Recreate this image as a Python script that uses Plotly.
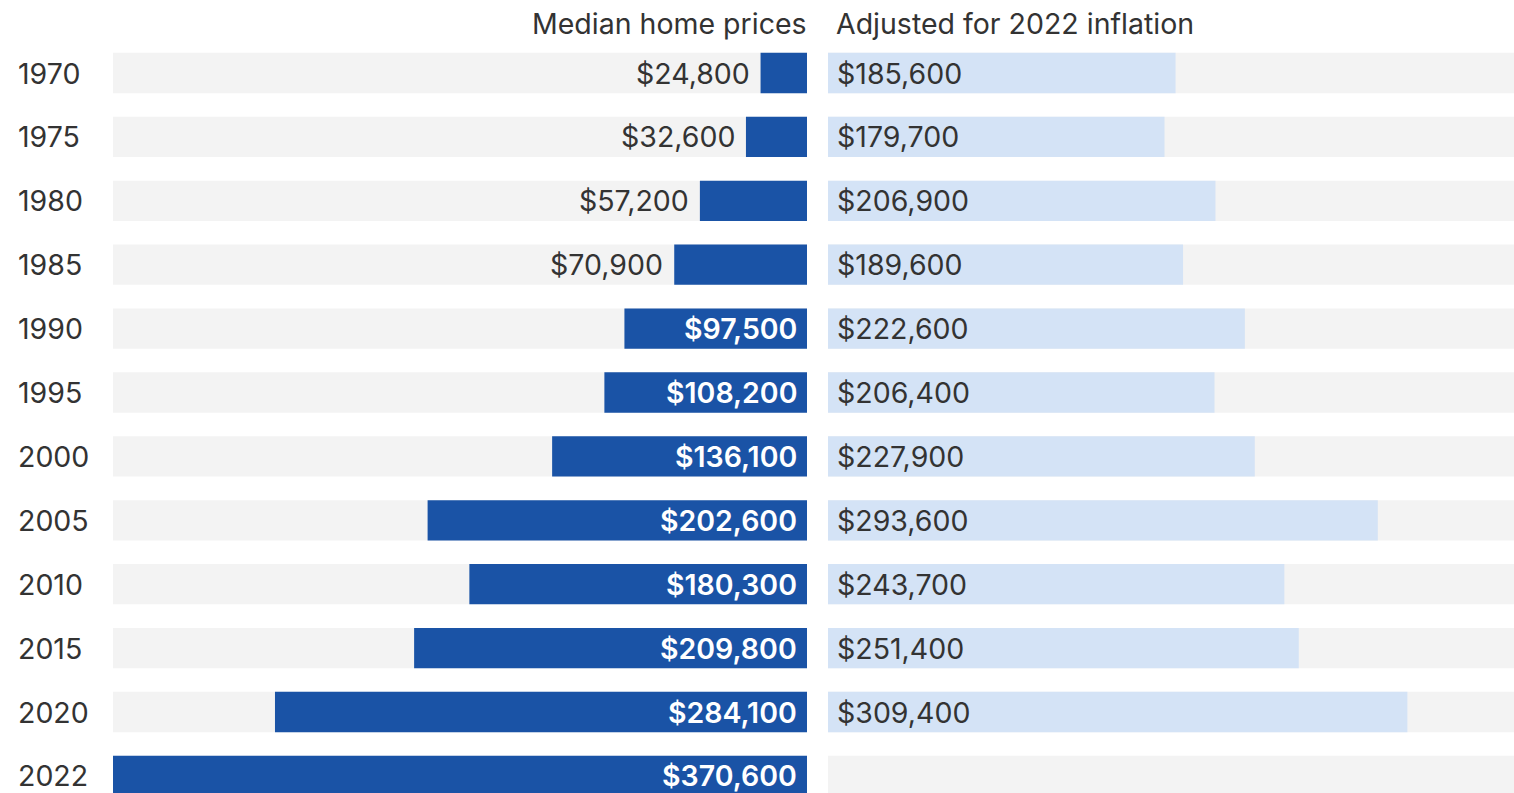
import plotly.graph_objects as go

years = ["1970", "1975", "1980", "1985", "1990", "1995", "2000", "2005", "2010", "2015", "2020", "2022"]
median_prices = [24800, 32600, 57200, 70900, 97500, 108200, 136100, 202600, 180300, 209800, 284100, 370600]
adjusted_prices = [185600, 179700, 206900, 189600, 222600, 206400, 227900, 293600, 243700, 251400, 309400, None]
header_left = "Median home prices"
header_right = "Adjusted for 2022 inflation"

W, H = 1514, 793
DARK = "#1a53a6"
LIGHT = "#d4e3f6"
GRAY = "#f3f3f3"
TEXT = "#333333"
FONT = "Inter"
FS = 28.5
BAR_W = 0.63
INSIDE_MIN = 90000

fig = go.Figure()
fig.add_trace(go.Bar(y=years, x=median_prices, orientation="h", marker=dict(color=DARK, line=dict(width=0)),
                     width=BAR_W, xaxis="x", yaxis="y", hoverinfo="skip"))
fig.add_trace(go.Bar(y=years, x=adjusted_prices, orientation="h", marker=dict(color=LIGHT, line=dict(width=0)),
                     width=BAR_W, xaxis="x2", yaxis="y", hoverinfo="skip"))

shapes = []
annotations = []
for i, yr in enumerate(years):
    for xr in ("x domain", "x2 domain"):
        shapes.append(dict(type="rect", xref=xr, yref="y", x0=0, x1=1, y0=i - BAR_W / 2, y1=i + BAR_W / 2,
                           fillcolor=GRAY, line=dict(width=0), layer="below"))
    annotations.append(dict(xref="paper", yref="y", x=16 / W, y=i, xanchor="left", yanchor="middle",
                            text=yr, showarrow=False, font=dict(family=FONT, size=FS, color=TEXT)))
    v = median_prices[i]
    lbl = "${:,}".format(v)
    if v >= INSIDE_MIN:
        annotations.append(dict(xref="x", yref="y", x=0, y=i, xanchor="right", yanchor="middle", xshift=-8,
                                text=lbl, showarrow=False,
                                font=dict(family=FONT, size=FS, color="white", weight=600)))
    else:
        annotations.append(dict(xref="x", yref="y", x=v, y=i, xanchor="right", yanchor="middle", xshift=-9,
                                text=lbl, showarrow=False, font=dict(family=FONT, size=FS, color=TEXT)))
    a = adjusted_prices[i]
    if a is not None:
        annotations.append(dict(xref="x2", yref="y", x=0, y=i, xanchor="left", yanchor="middle", xshift=7,
                                text="${:,}".format(a), showarrow=False, font=dict(family=FONT, size=FS, color=TEXT)))

annotations.append(dict(xref="paper", yref="paper", x=809 / W, y=1 - 23 / H, xanchor="right", yanchor="middle",
                        text=header_left, showarrow=False, font=dict(family=FONT, size=FS, color=TEXT)))
annotations.append(dict(xref="paper", yref="paper", x=834 / W, y=1 - 23 / H, xanchor="left", yanchor="middle",
                        text=header_right, showarrow=False, font=dict(family=FONT, size=FS, color=TEXT)))

row_px = 63.9
first_px = 73
y_top = -first_px / row_px
y_bot = (H - first_px) / row_px

scale = max(median_prices) / (807 - 113)

fig.update_layout(
    width=W, height=H, margin=dict(l=0, r=0, t=0, b=0),
    paper_bgcolor="white", plot_bgcolor="white", showlegend=False, barmode="overlay",
    xaxis=dict(domain=[113 / W, 807 / W], range=[max(median_prices), 0], visible=False, fixedrange=True),
    xaxis2=dict(domain=[828 / W, 1.0], range=[0, scale * (W - 828)], visible=False, anchor="y", fixedrange=True),
    yaxis=dict(type="category", categoryorder="array", categoryarray=years, range=[y_bot, y_top],
               visible=False, fixedrange=True),
    shapes=shapes, annotations=annotations,
)

fig.write_html("out.html", config={"displayModeBar": False},
               post_script="document.body.style.margin='0';document.body.style.overflow='hidden';")
